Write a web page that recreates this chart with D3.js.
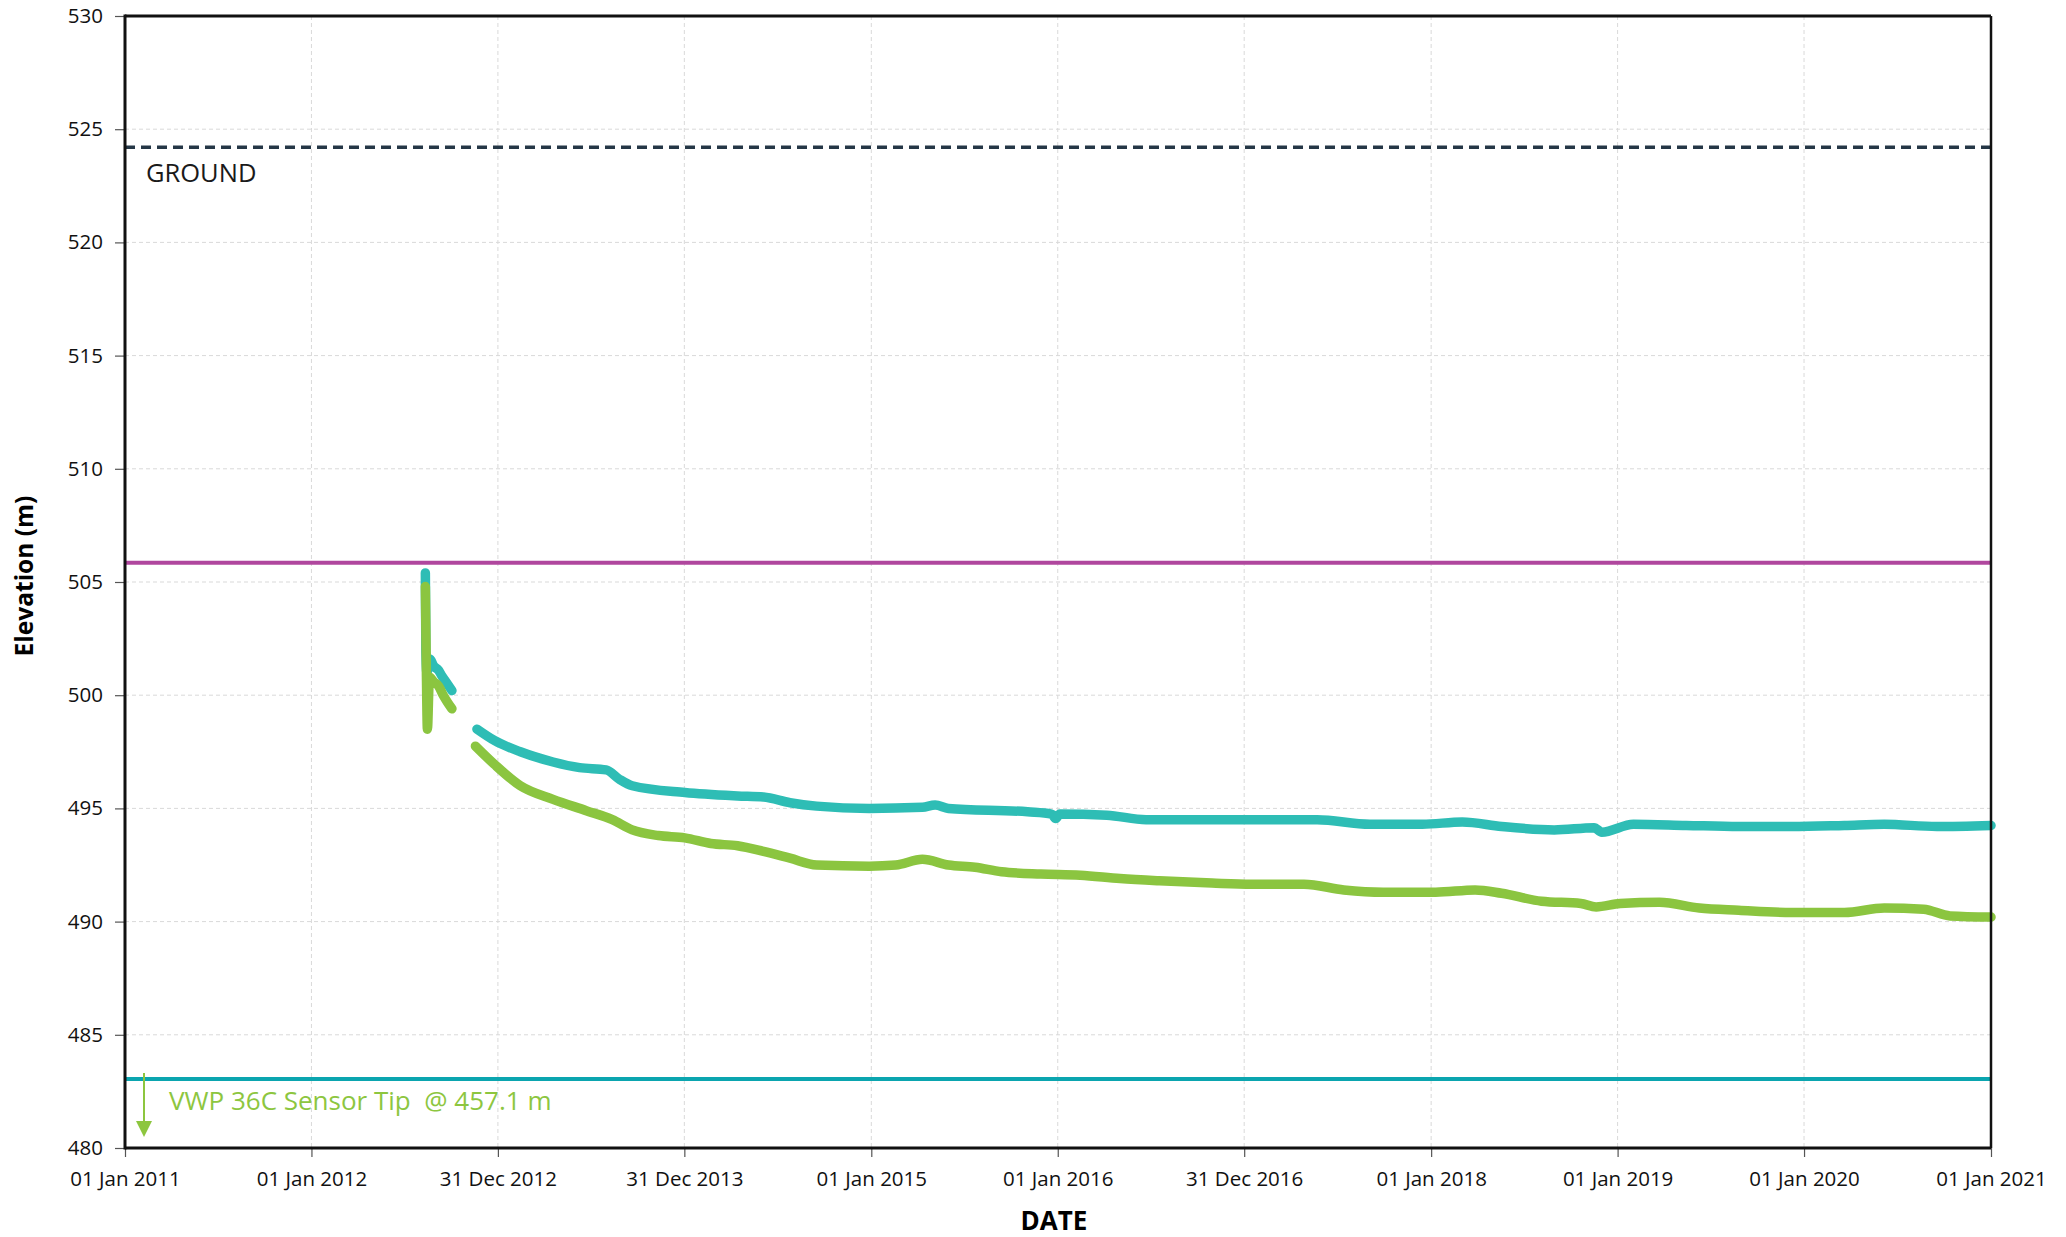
<!DOCTYPE html>
<html>
<head>
<meta charset="utf-8">
<script src="https://cdn.jsdelivr.net/npm/d3@7"></script>
<style>
  html, body { margin: 0; padding: 0; background: #fff; }
  svg { display: block; }
</style>
</head>
<body>
<svg id="chart" width="2066" height="1237"></svg>
<script>
// ---- Data ----
const xTickDates = ["2011-01-01","2012-01-01","2012-12-31","2013-12-31","2015-01-01","2016-01-01","2016-12-31","2018-01-01","2019-01-01","2020-01-01","2021-01-01"];
const xTickLabels = ["01 Jan 2011","01 Jan 2012","31 Dec 2012","31 Dec 2013","01 Jan 2015","01 Jan 2016","31 Dec 2016","01 Jan 2018","01 Jan 2019","01 Jan 2020","01 Jan 2021"];
const yTicks = [480, 485, 490, 495, 500, 505, 510, 515, 520, 525, 530];

const groundLevel = 524.2;
const magentaLevel = 505.85;
const tealLevel = 483.05;
const sensorLabel = "VWP 36C Sensor Tip  @ 457.1 m";

// Upper (teal) series: null marks a gap
const tealDates = ["2012-08-11","2012-08-12","2012-08-14","2012-08-20","2012-08-27","2012-09-06","2012-09-11","2012-09-20","2012-10-02",
  "2012-11-01",
  "2012-11-20","2012-12-24","2013-02-13","2013-04-18","2013-06-09","2013-07-31","2013-08-25","2013-09-20","2014-01-01","2014-04-14","2014-06-04","2014-07-26","2014-09-16","2014-12-28","2015-04-11","2015-05-06","2015-06-01","2015-11-03","2015-12-20","2015-12-28","2016-01-05","2016-04-06","2016-06-22","2016-09-08","2017-01-14","2017-05-23","2017-09-03","2017-12-15","2018-03-03","2018-05-19","2018-08-30","2018-11-16","2018-12-01","2019-02-01","2019-05-15","2019-08-26","2019-12-08","2020-03-20","2020-06-06","2020-09-17","2021-01-01"];
const tealValues = [505.4, 502.0, 501.0, 501.6, 501.3, 501.1, 500.9, 500.6, 500.2,
  null,
  498.5, 498.0, 497.5, 497.05, 496.8, 496.7, 496.3, 496.0, 495.7, 495.55, 495.5, 495.25, 495.1, 495.0, 495.05, 495.15, 495.0, 494.85, 494.75, 494.55, 494.75, 494.7, 494.5, 494.5, 494.5, 494.5, 494.3, 494.3, 494.4, 494.2, 494.05, 494.15, 493.95, 494.3, 494.25, 494.2, 494.2, 494.25, 494.3, 494.2, 494.25];

// Lower (green) series
const greenDates = ["2012-08-11","2012-08-13","2012-08-15","2012-08-19","2012-08-27","2012-09-06","2012-09-15","2012-10-02",
  "2012-11-01",
  "2012-11-17","2012-12-24","2013-02-13","2013-04-18","2013-06-22","2013-08-12","2013-09-20","2013-11-10","2014-01-01","2014-02-21","2014-04-14","2014-06-04","2014-07-26","2014-09-16","2014-12-28","2015-02-18","2015-04-11","2015-06-01","2015-07-23","2015-09-13","2015-11-29","2016-02-14","2016-05-02","2016-07-18","2016-10-29","2017-01-14","2017-04-27","2017-07-14","2017-09-29","2018-01-10","2018-03-28","2018-05-19","2018-08-05","2018-10-21","2018-11-20","2019-01-06","2019-03-24","2019-06-10","2019-08-26","2019-12-08","2020-03-20","2020-06-06","2020-08-22","2020-10-13","2021-01-01"];
const greenValues = [504.8, 501.0, 498.5, 500.8, 500.6, 500.4, 500.0, 499.4,
  null,
  497.75, 496.95, 496.0, 495.4, 494.9, 494.5, 494.05, 493.8, 493.7, 493.45, 493.35, 493.1, 492.8, 492.5, 492.45, 492.5, 492.75, 492.5, 492.4, 492.2, 492.1, 492.05, 491.9, 491.8, 491.7, 491.65, 491.65, 491.4, 491.3, 491.3, 491.4, 491.25, 490.9, 490.8, 490.65, 490.8, 490.85, 490.6, 490.5, 490.4, 490.4, 490.6, 490.55, 490.25, 490.2];

// ---- Layout ----
const W = 2066, H = 1237;
const margin = { left: 125, right: 75, top: 16, bottom: 89 };
const parse = d3.utcParse("%Y-%m-%d");

const svg = d3.select("#chart");
const x = d3.scaleUtc()
  .domain([parse(xTickDates[0]), parse(xTickDates[xTickDates.length - 1])])
  .range([margin.left, W - margin.right]);
const y = d3.scaleLinear()
  .domain([480, 530])
  .range([H - margin.bottom, margin.top]);

const FONT = "'Open Sans', 'Noto Sans', sans-serif";

// grid
const grid = svg.append("g");
grid.selectAll("line.vg").data(xTickDates.slice(1, -1)).join("line")
  .attr("x1", d => x(parse(d))).attr("x2", d => x(parse(d)))
  .attr("y1", y(530)).attr("y2", y(480))
  .attr("stroke", "#d9d9d9").attr("stroke-width", 1).attr("stroke-dasharray", "4,3");
grid.selectAll("line.hg").data(yTicks.slice(1, -1)).join("line")
  .attr("x1", x.range()[0]).attr("x2", x.range()[1])
  .attr("y1", d => y(d)).attr("y2", d => y(d))
  .attr("stroke", "#d9d9d9").attr("stroke-width", 1).attr("stroke-dasharray", "4,3");

// reference lines
svg.append("line")
  .attr("x1", x.range()[0]).attr("x2", x.range()[1])
  .attr("y1", y(groundLevel)).attr("y2", y(groundLevel))
  .attr("stroke", "#253746").attr("stroke-width", 3.5).attr("stroke-dasharray", "10,6");
svg.append("text")
  .attr("x", x.range()[0] + 21).attr("y", y(groundLevel) + 35)
  .attr("font-family", FONT).attr("font-size", 25.5).attr("fill", "#1a1a1a")
  .text("GROUND");

svg.append("line")
  .attr("x1", x.range()[0]).attr("x2", x.range()[1])
  .attr("y1", y(magentaLevel)).attr("y2", y(magentaLevel))
  .attr("stroke", "#B0479E").attr("stroke-width", 4);

svg.append("line")
  .attr("x1", x.range()[0]).attr("x2", x.range()[1])
  .attr("y1", y(tealLevel)).attr("y2", y(tealLevel))
  .attr("stroke", "#0BA5AF").attr("stroke-width", 4);

// sensor arrow + label
const arrowX = x.range()[0] + 19;
svg.append("line")
  .attr("x1", arrowX).attr("x2", arrowX)
  .attr("y1", y(tealLevel) - 6).attr("y2", y(tealLevel) + 46)
  .attr("stroke", "#8DC63F").attr("stroke-width", 2);
svg.append("path")
  .attr("d", `M${arrowX - 8},${y(tealLevel) + 42} L${arrowX + 8},${y(tealLevel) + 42} L${arrowX},${y(tealLevel) + 58} Z`)
  .attr("fill", "#8DC63F");
svg.append("text")
  .attr("x", x.range()[0] + 44).attr("y", y(tealLevel) + 31)
  .attr("font-family", FONT).attr("font-size", 26).attr("fill", "#8DC63F")
  .attr("xml:space", "preserve").style("white-space", "pre")
  .text(sensorLabel);

// series
const line = d3.line()
  .defined(d => d.v !== null)
  .x(d => x(d.t)).y(d => y(d.v))
  .curve(d3.curveMonotoneX);

const tealData = tealDates.map((d, i) => ({ t: parse(d), v: tealValues[i] }));
const greenData = greenDates.map((d, i) => ({ t: parse(d), v: greenValues[i] }));

svg.append("path").datum(tealData)
  .attr("d", line).attr("fill", "none")
  .attr("stroke", "#2EBDB5").attr("stroke-width", 9.5)
  .attr("stroke-linecap", "round").attr("stroke-linejoin", "round");
svg.append("path").datum(greenData)
  .attr("d", line).attr("fill", "none")
  .attr("stroke", "#8BC540").attr("stroke-width", 9.5)
  .attr("stroke-linecap", "round").attr("stroke-linejoin", "round");

// axes
const xAxis = d3.axisBottom(x)
  .tickValues(xTickDates.map(parse))
  .tickFormat((d, i) => xTickLabels[i])
  .tickSize(9).tickSizeOuter(0).tickPadding(14);
const gx = svg.append("g").attr("transform", `translate(0,${y(480)})`).call(xAxis);
gx.select(".domain").remove();
gx.selectAll(".tick line").attr("stroke", "#555").attr("stroke-width", 1.2);
gx.selectAll(".tick text").attr("font-family", FONT).attr("font-size", 20.5).attr("fill", "#111");

const yAxis = d3.axisLeft(y).tickValues(yTicks).tickSize(10).tickSizeOuter(0).tickPadding(12);
const gy = svg.append("g").attr("transform", `translate(${x.range()[0]},0)`).call(yAxis);
gy.select(".domain").remove();
gy.selectAll(".tick line").attr("stroke", "#555").attr("stroke-width", 1.2);
gy.selectAll(".tick text").attr("font-family", FONT).attr("font-size", 20.5).attr("fill", "#111");

// frame
const [x0, x1] = x.range();
const [yb, yt] = y.range();
svg.append("line").attr("x1", x0).attr("x2", x1).attr("y1", yt).attr("y2", yt).attr("stroke", "#111").attr("stroke-width", 3);
svg.append("line").attr("x1", x1).attr("x2", x1).attr("y1", yt).attr("y2", yb).attr("stroke", "#111").attr("stroke-width", 2.5);
svg.append("line").attr("x1", x0).attr("x2", x0).attr("y1", yt - 1.5).attr("y2", yb + 1.5).attr("stroke", "#111").attr("stroke-width", 3);
svg.append("line").attr("x1", x0).attr("x2", x1).attr("y1", yb).attr("y2", yb).attr("stroke", "#111").attr("stroke-width", 3);

// axis titles
svg.append("text")
  .attr("x", (x0 + x1) / 2 - 4).attr("y", 1230)
  .attr("text-anchor", "middle")
  .attr("font-family", FONT).attr("font-size", 26).attr("font-weight", "bold").attr("fill", "#000")
  .text("DATE");
svg.append("text")
  .attr("transform", `translate(33,${(yt + yb) / 2 - 6}) rotate(-90)`)
  .attr("text-anchor", "middle")
  .attr("font-family", FONT).attr("font-size", 24.5).attr("font-weight", "bold").attr("fill", "#000")
  .text("Elevation (m)");
</script>
</body>
</html>
